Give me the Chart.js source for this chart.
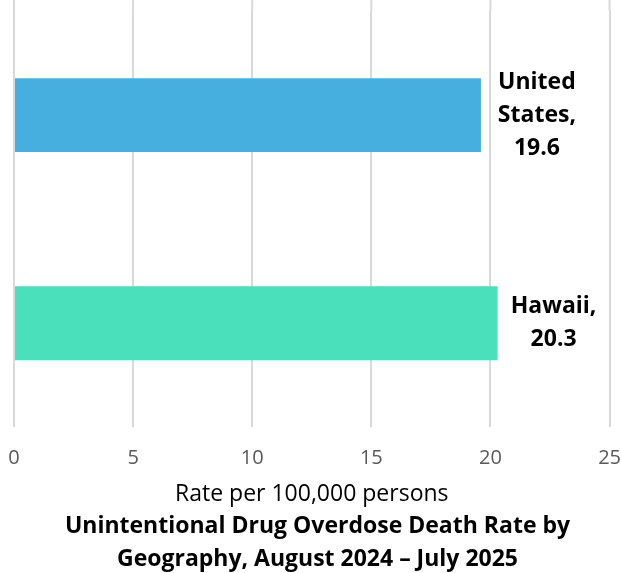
<!DOCTYPE html>
<html lang="en">
<head>
<meta charset="UTF-8">
<title>Overdose death rate</title>
<script src="https://cdn.jsdelivr.net/npm/chart.js"></script>
<style>
  html, body { margin: 0; padding: 0; background: #fff; }
  #wrap { width: 621px; height: 573px; }
</style>
</head>
<body>
<div id="wrap"><canvas id="chart"></canvas></div>
<script>
// data
const categories = ['United States', 'Hawaii']
const rates = [19.6, 20.3]
const barColors = ['#46AFE0', '#4AE0BC']
const xTicks = [0, 5, 10, 15, 20, 25]
const xTitle = 'Rate per 100,000 persons'
const chartTitle = ['Unintentional Drug Overdose Death Rate by', 'Geography, August 2024 \u2013 July 2025']

// gridlines in the reference run up to the top edge, above the plot area
const gridToTop = {
  id: 'gridToTop',
  beforeDatasetsDraw(chart) {
    const ctx = chart.ctx
    const x = chart.scales.x
    ctx.save()
    ctx.strokeStyle = '#d9d9d9'
    ctx.lineWidth = 2
    x.ticks.forEach(t => {
      const px = x.getPixelForValue(t.value)
      ctx.beginPath()
      ctx.moveTo(px, 0)
      ctx.lineTo(px, chart.chartArea.top)
      ctx.stroke()
    })
    ctx.restore()
  }
}

// label next to each bar: category words, comma, then value
const barLabels = {
  id: 'barLabels',
  afterDatasetsDraw(chart) {
    const ctx = chart.ctx
    const meta = chart.getDatasetMeta(0)
    ctx.save()
    ctx.font = 'bold 23px "Open Sans"'
    ctx.fillStyle = '#000'
    ctx.textAlign = 'center'
    ctx.textBaseline = 'middle'
    meta.data.forEach((bar, i) => {
      const words = categories[i].split(' ')
      words[words.length - 1] += ','
      const lines = words.concat([rates[i].toFixed(1)])
      const lh = 33
      const cx = bar.x + 56
      const top = bar.y - (lines.length - 1) * lh / 2
      lines.forEach((t, j) => ctx.fillText(t, cx, top + j * lh))
    })
    ctx.restore()
  }
}

new Chart(document.getElementById('chart'), {
  type: 'bar',
  data: {
    labels: categories,
    datasets: [{
      data: rates,
      backgroundColor: barColors,
      categoryPercentage: 1,
      barPercentage: 0.355
    }]
  },
  plugins: [gridToTop, barLabels],
  options: {
    indexAxis: 'y',
    responsive: true,
    maintainAspectRatio: false,
    animation: false,
    layout: { padding: { top: 11, left: 14, right: 0, bottom: 0 } },
    plugins: {
      legend: { display: false },
      tooltip: { enabled: false },
      title: {
        display: true,
        position: 'bottom',
        text: chartTitle,
        color: '#000',
        font: { family: 'Open Sans', size: 23, weight: 'bold', lineHeight: 1.45 },
        padding: { top: 3, bottom: -3 }
      }
    },
    scales: {
      y: { display: false },
      x: {
        min: 0,
        max: 25,
        afterBuildTicks(scale) { scale.ticks = xTicks.map(v => ({ value: v })) },
        grid: { color: '#d9d9d9', lineWidth: 2, drawTicks: true, tickLength: 19, tickColor: 'rgba(0,0,0,0)' },
        border: { display: false },
        ticks: { color: '#595959', font: { family: 'Open Sans', size: 20 }, padding: 0 },
        title: {
          display: true,
          text: xTitle,
          color: '#000',
          font: { family: 'Open Sans', size: 23, lineHeight: 1 },
          padding: { top: 13, bottom: 0 }
        }
      }
    }
  }
})
</script>
</body>
</html>
